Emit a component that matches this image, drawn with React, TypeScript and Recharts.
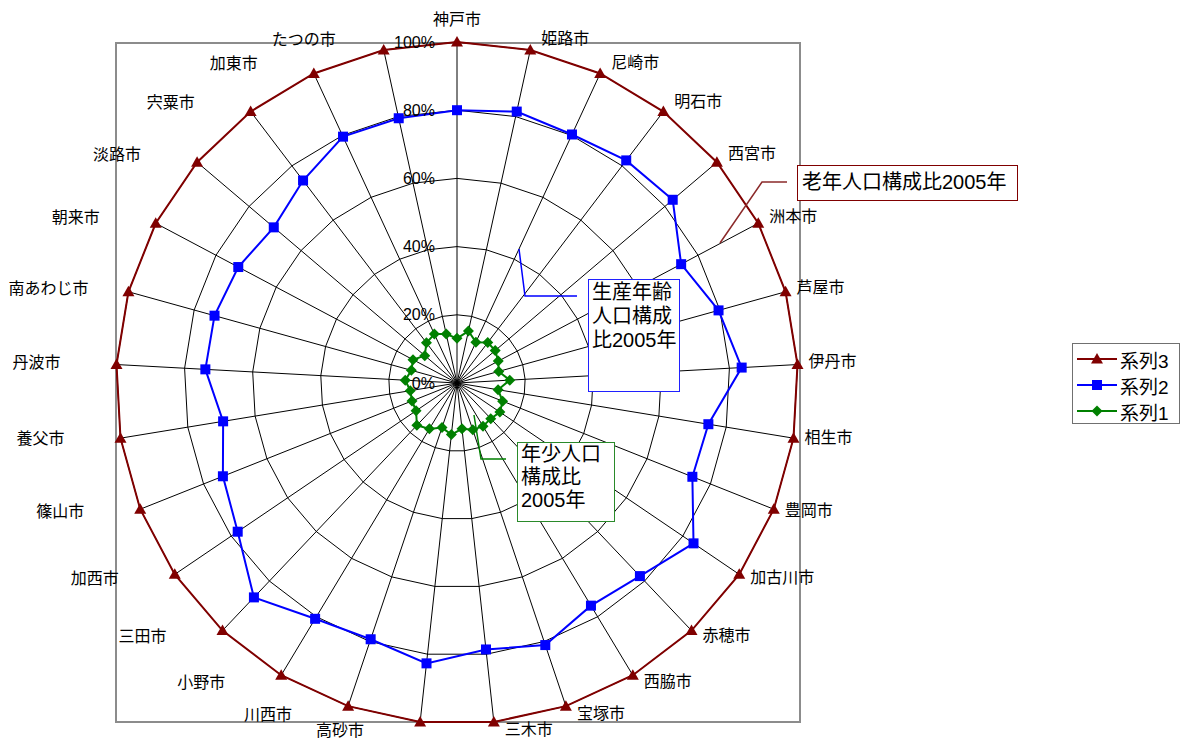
import React from "react";
import {
  RadarChart,
  Radar,
  PolarGrid,
  PolarAngleAxis,
  PolarRadiusAxis,
  Legend,
} from "recharts";

// categories, clockwise from the top
const cities = [
  "神戸市", "姫路市", "尼崎市", "明石市", "西宮市", "洲本市", "芦屋市", "伊丹市",
  "相生市", "豊岡市", "加古川市", "赤穂市", "西脇市", "宝塚市", "三木市", "高砂市",
  "川西市", "小野市", "三田市", "加西市", "篠山市", "養父市", "丹波市", "南あわじ市",
  "朝来市", "淡路市", "宍粟市", "加東市", "たつの市",
];

// 系列1: youth share (%)
const series1 = [
  13.1, 15.6, 13.2, 14.9, 14.7, 13.7, 12.7, 15.5, 12.2, 14.4, 15.2, 14.4, 14.8, 14.5, 13.5,
  15.2, 13.8, 15.7, 17.1, 14.5, 14.2, 13.9, 15.2, 13.9, 14.6, 12.4, 14.8, 15.8, 14.7,
];

// 系列2: youth + working-age share (%)
const series2 = [
  80.0, 81.5, 80.3, 82.0, 83.0, 74.4, 79.6, 83.6, 74.7, 74.3, 83.8, 78.0, 76.2, 81.1, 78.6,
  82.7, 79.3, 80.7, 86.6, 77.7, 73.9, 69.5, 73.9, 73.8, 72.6, 70.5, 74.6, 79.6, 79.5,
];

// 系列3: all ages (%)
const series3 = [
  100, 100, 100, 100, 100, 100, 100, 100, 100, 100, 100, 100, 100, 100, 100,
  100, 100, 100, 100, 100, 100, 100, 100, 100, 100, 100, 100, 100, 100,
];

const radiusTicks = [0, 20, 40, 60, 80, 100];

const data = cities.map((city, i) => ({
  city,
  s1: series1[i],
  s2: series2[i],
  s3: series3[i],
}));

const FONT = '"Liberation Sans", "Noto Sans CJK JP", sans-serif';
const CX = 457;
const CY = 383;
const R = 341;
const TICK_GAP = 8;

const RED = "#800000";
const BLUE = "#0000FF";
const GREEN = "#008000";

const markers: Record<string, (x: number, y: number, c: string) => React.ReactElement> = {
  triangle: (x, y, c) => (
    <path d={`M${x},${y - 6}L${x + 6},${y + 4.5}L${x - 6},${y + 4.5}Z`} fill={c} />
  ),
  square: (x, y, c) => <rect x={x - 5} y={y - 5} width={10} height={10} fill={c} />,
  diamond: (x, y, c) => (
    <path d={`M${x},${y - 5.5}L${x + 5.5},${y}L${x},${y + 5.5}L${x - 5.5},${y}Z`} fill={c} />
  ),
};

const seriesLook: Record<string, { color: string; shape: string }> = {
  系列1: { color: GREEN, shape: "diamond" },
  系列2: { color: BLUE, shape: "square" },
  系列3: { color: RED, shape: "triangle" },
};

function makeDot(shape: string, color: string) {
  return (p: any) => (
    <g key={`${shape}-${p.index}`}>{markers[shape](p.cx, p.cy, color)}</g>
  );
}

// Excel puts left-side labels further out than right-side ones
function CityTick(props: any) {
  const { x, y, payload } = props;
  const a = (payload.coordinate * Math.PI) / 180;
  const ux = Math.cos(a);
  const uy = -Math.sin(a);
  const bx = x - TICK_GAP * ux;
  const by = y - TICK_GAP * uy;
  let tx = bx;
  let ty = by;
  let anchor = "middle";
  if (Math.abs(ux) < 0.02) {
    ty = by + (uy < 0 ? -23 : 12);
  } else if (ux > 0) {
    tx = bx + 11;
    ty = by + 10 * uy - 2;
    anchor = "start";
  } else {
    tx = bx - 80;
    ty = by + 10 * uy - 1;
  }
  return (
    <text
      x={tx}
      y={ty}
      textAnchor={anchor}
      dominantBaseline="central"
      fontSize={16}
      fill="#000"
      fontFamily={FONT}
    >
      {payload.value}
    </text>
  );
}

function PctTick(props: any) {
  const { x, y, payload } = props;
  return (
    <text
      x={x - 22}
      y={y}
      textAnchor="end"
      dominantBaseline="central"
      fontSize={16}
      fill="#000"
      fontFamily={FONT}
    >
      {payload.value}%
    </text>
  );
}

function LegendBox(props: any) {
  const items = [...(props.payload || [])].sort((a: any, b: any) =>
    String(b.value).localeCompare(String(a.value))
  );
  return (
    <div
      style={{
        border: "1.5px solid #707070",
        background: "#fff",
        width: 108,
        height: 81,
        boxSizing: "border-box",
        padding: "2px 0 0 3px",
        fontFamily: FONT,
      }}
    >
      {items.map((it: any) => {
        const look = seriesLook[it.value];
        return (
          <div key={it.value} style={{ display: "flex", alignItems: "center", height: 26 }}>
            <svg width={42} height={14}>
              <line x1={1} x2={41} y1={7} y2={7} stroke={look.color} strokeWidth={2} />
              {markers[look.shape](21, 7, look.color)}
            </svg>
            <span style={{ fontSize: 19, marginLeft: 2, color: "#000" }}>{it.value}</span>
          </div>
        );
      })}
    </div>
  );
}

const boxText: React.CSSProperties = {
  position: "absolute",
  background: "#fff",
  boxSizing: "border-box",
  fontFamily: FONT,
  fontSize: 20,
  color: "#000",
  whiteSpace: "nowrap",
};

export default function App() {
  return (
    <div style={{ position: "absolute", left: 0, top: 0, width: 1186, height: 738, background: "#fff", overflow: "hidden" }}>
      {/* plot area frame */}
      <div
        style={{
          position: "absolute",
          left: 115,
          top: 42,
          width: 686,
          height: 681,
          border: "2px solid #8c8c8c",
          boxSizing: "border-box",
        }}
      />
      <div style={{ position: "absolute", left: 0, top: 0 }}>
        <RadarChart
          width={1186}
          height={738}
          data={data}
          cx={CX}
          cy={CY}
          outerRadius={R}
          margin={{ top: 0, right: 0, bottom: 0, left: 0 }}
        >
          <PolarGrid gridType="polygon" stroke="#000" strokeWidth={1} />
          <PolarAngleAxis
            dataKey="city"
            tick={<CityTick />}
            tickLine={false}
            tickSize={TICK_GAP}
            axisLine={false}
          />
          <PolarRadiusAxis
            angle={90}
            domain={[0, 100]}
            ticks={radiusTicks}
            tickCount={6}
            tick={<PctTick />}
            tickLine={false}
            axisLine={false}
          />
          <Radar
            name="系列1"
            dataKey="s1"
            stroke={GREEN}
            strokeWidth={2}
            fill="none"
            fillOpacity={0}
            dot={makeDot("diamond", GREEN)}
            activeDot={false}
            isAnimationActive={false}
          />
          <Radar
            name="系列2"
            dataKey="s2"
            stroke={BLUE}
            strokeWidth={2}
            fill="none"
            fillOpacity={0}
            dot={makeDot("square", BLUE)}
            activeDot={false}
            isAnimationActive={false}
          />
          <Radar
            name="系列3"
            dataKey="s3"
            stroke={RED}
            strokeWidth={2}
            fill="none"
            fillOpacity={0}
            dot={makeDot("triangle", RED)}
            activeDot={false}
            isAnimationActive={false}
          />
          <Legend
            content={<LegendBox />}
            wrapperStyle={{ left: 1072, top: 343, width: 108, height: 81 }}
          />
        </RadarChart>
      </div>

      {/* callout leader lines */}
      <svg
        width={1186}
        height={738}
        style={{ position: "absolute", left: 0, top: 0, pointerEvents: "none" }}
      >
        <polyline points="720,243 762,182 787,182" fill="none" stroke="#8b2a2a" strokeWidth={1.5} />
        <polyline points="519,249 525,296 577,296" fill="none" stroke={BLUE} strokeWidth={1.5} />
        <polyline points="474,415 481,459 506,459" fill="none" stroke={GREEN} strokeWidth={1.5} />
      </svg>

      {/* callout boxes */}
      <div
        style={{
          ...boxText,
          left: 797,
          top: 165,
          width: 221,
          height: 36,
          border: "1.5px solid #800000",
          padding: "0 0 0 4px",
          lineHeight: "32px",
        }}
      >
        老年人口構成比2005年
      </div>
      <div
        style={{
          ...boxText,
          left: 588,
          top: 279,
          width: 92,
          height: 113,
          border: "1.5px solid #2020ff",
          padding: "0 0 0 3px",
          lineHeight: "24px",
        }}
      >
        生産年齢
        <br />
        人口構成
        <br />
        比2005年
      </div>
      <div
        style={{
          ...boxText,
          left: 517,
          top: 442,
          width: 98,
          height: 80,
          border: "1.5px solid #2a8a2a",
          padding: "0 0 0 3px",
          lineHeight: "23px",
        }}
      >
        年少人口
        <br />
        構成比
        <br />
        2005年
      </div>
    </div>
  );
}
